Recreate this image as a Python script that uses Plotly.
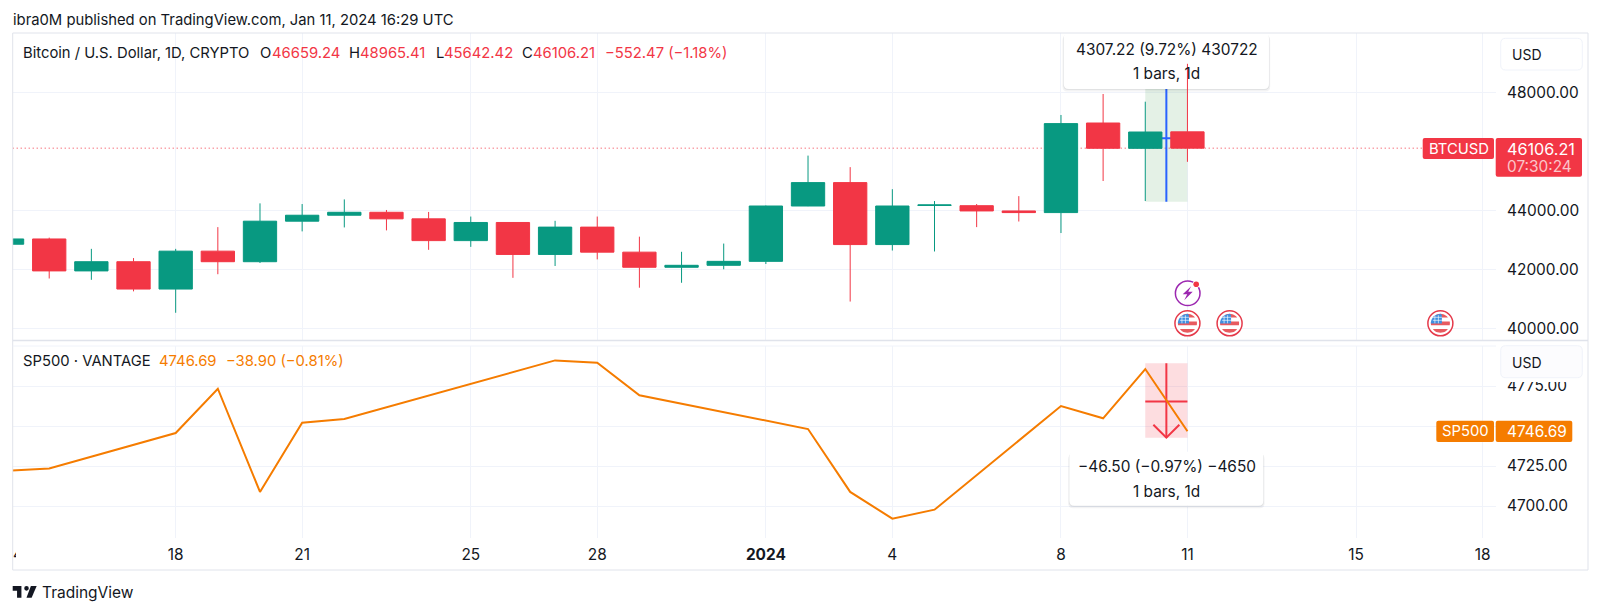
# -*- coding: utf-8 -*-
import numpy as np
import pandas as pd
import plotly.graph_objs as go

# the page body keeps its 8px margin, so the figure is 8px short each way
PAGE_MARGIN = 8
W = 1600 - PAGE_MARGIN
H = 614 - PAGE_MARGIN

# daily BTCUSD candles
btc_dates = pd.date_range('2023-12-14', '2024-01-11').strftime('%Y-%m-%d').tolist()
btc_open = [42850, 43028, 41945, 42257, 41330, 42615, 42257, 43631, 43833, 43933, 43710, 42972, 43587, 42503, 43430,
            42581, 42068, 42135, 42269, 44145, 44938, 42838, 44165, 44156, 43978, 43922, 46959, 46100, 46659.24]
btc_high = [43400, 43073, 42693, 42380, 42693, 43430, 44235, 44212, 44369, 44011, 43944, 43788, 43590, 43643, 43788,
            43106, 42593, 42872, 44160, 45854, 45463, 44715, 44313, 44212, 44480, 47231, 47942, 47681, 48965.41]
btc_low = [41700, 41688, 41643, 41252, 40526, 41833, 42213, 43285, 43419, 43319, 42660, 42760, 41710, 42112, 42336,
           41375, 41543, 42000, 42179, 44140, 40906, 42637, 42604, 43430, 43620, 43229, 44993, 44315, 45642.42]
btc_close = [43028, 41945, 42257, 41330, 42615, 42257, 43631, 43833, 43933, 43710, 42972, 43587, 42503, 43430, 42581,
             42068, 42135, 42269, 44145, 44938, 42838, 44145, 44180, 43978, 43922, 46938, 46102, 46654, 46106.21]

# SP500 closes, trading days only
sp_dates = ['2023-12-14', '2023-12-15', '2023-12-18', '2023-12-19', '2023-12-20', '2023-12-21', '2023-12-22',
            '2023-12-27', '2023-12-28', '2023-12-29', '2024-01-02', '2024-01-03', '2024-01-04', '2024-01-05',
            '2024-01-08', '2024-01-09', '2024-01-10', '2024-01-11']
sp_close = [4722, 4723.5, 4745.6, 4773.3, 4708.8, 4752.1, 4754.4, 4791, 4789.6, 4769.2, 4748.1, 4708.8, 4692.1,
            4697.7, 4762.5, 4754.8, 4785.59, 4746.69]

# axis ticks
x_tick_dates = ['2023-12-18', '2023-12-21', '2023-12-25', '2023-12-28', '2024-01-01', '2024-01-04', '2024-01-08',
                '2024-01-11', '2024-01-15', '2024-01-18']
x_tick_labels = ['18', '21', '25', '28', '<b>2024</b>', '4', '8', '11', '15', '18']
btc_ticks = [40000, 42000, 44000, 48000]
btc_tick_labels = ['40000.00', '42000.00', '44000.00', '48000.00']
sp_ticks = [4700, 4725, 4750, 4775]
sp_tick_labels = ['4700.00', '4725.00', '', '4775.00']  # 4750 sits under the SP500 price label

# measure tools
btc_measure_low = 44290
btc_measure_high = 48597
btc_measure_mid = 46443
sp_measure_high = 4789.2
sp_measure_low = 4742.7
sp_measure_mid = 4765.3
last_btc = 46106.21

# news events
event_dates = ['2024-01-11', '2024-01-12', '2024-01-17']

GREEN = '#089981'
RED = '#F23645'
ORANGE = '#F57C00'
INK = '#131722'
GRID = '#F0F3FA'
FONT = 'Inter'

X_RANGE = ['2023-12-14 03:13', '2024-01-18 07:40']


def px(x):
    return (x - PAGE_MARGIN) / W


def py(y):
    return 1 - (y - PAGE_MARGIN) / H


def rrect(x0, y0, x1, y1, r, fill, line=None):
    p = (f'M {px(x0 + r)} {py(y0)} L {px(x1 - r)} {py(y0)} Q {px(x1)} {py(y0)} {px(x1)} {py(y0 + r)} '
         f'L {px(x1)} {py(y1 - r)} Q {px(x1)} {py(y1)} {px(x1 - r)} {py(y1)} '
         f'L {px(x0 + r)} {py(y1)} Q {px(x0)} {py(y1)} {px(x0)} {py(y1 - r)} '
         f'L {px(x0)} {py(y0 + r)} Q {px(x0)} {py(y0)} {px(x0 + r)} {py(y0)} Z')
    return dict(type='path', xref='paper', yref='paper', path=p, fillcolor=fill, layer='above',
                line=dict(color=line or fill, width=1 if line else 0))


def hline(x0, x1, y, color, width=1):
    return dict(type='line', xref='paper', yref='paper', x0=px(x0), x1=px(x1), y0=py(y), y1=py(y),
                layer='above', line=dict(color=color, width=width))


def vline(x, y0, y1, color, width=1):
    return dict(type='line', xref='paper', yref='paper', x0=px(x), x1=px(x), y0=py(y0), y1=py(y1),
                layer='above', line=dict(color=color, width=width))


def poly(points, fill):
    p = 'M ' + ' L '.join(f'{px(a)} {py(b)}' for a, b in points) + ' Z'
    return dict(type='path', xref='paper', yref='paper', path=p, fillcolor=fill, layer='above', line=dict(width=0))


def circle(cx, cy, r, fill, line=None, width=1.5):
    return dict(type='circle', xref='paper', yref='paper', x0=px(cx - r), x1=px(cx + r), y0=py(cy - r), y1=py(cy + r),
                fillcolor=fill, layer='above', line=dict(color=line or fill, width=width if line else 0))


def band(cx, cy, r, d0, d1, xmax=None):
    ys = np.linspace(d0, d1, 9)
    xs = np.sqrt(np.maximum(r * r - ys * ys, 0))
    right = xs if xmax is None else np.minimum(xs, xmax)
    pts = [(cx + a, cy + b) for a, b in zip(right, ys)]
    pts += [(cx - a, cy + b) for a, b in zip(xs[::-1], ys[::-1])]
    return pts


def flag(cx, cy):
    out = [circle(cx, cy, 12.5, 'white', '#E5394A', 1.5)]
    r = 9.5
    for d0, d1, c in [(-9.5, -5.8, '#E85A5F'), (-1.7, 2.0, '#E85A5F'), (5.8, 9.5, '#E85A5F')]:
        out.append(poly(band(cx, cy, r, d0, d1), c))
    out.append(poly(band(cx, cy, r, -9.5, 0.2, xmax=1.5), '#3F8FE0'))
    for dx in (-5.5, -2):
        out.append(vline(cx + dx, cy - 8, cy, 'rgba(255,255,255,0.8)', 0.8))
    for dy in (-6, -3):
        out.append(hline(cx - 7.5, cx + 1.5, cy + dy, 'rgba(255,255,255,0.8)', 0.8))
    return out


def txt(x, y, text, color=INK, size=14.8, anchor='left', **kw):
    return dict(xref='paper', yref='paper', x=px(x), y=py(y), text=text, showarrow=False, xanchor=anchor,
                yanchor='middle', align=anchor, font=dict(family=FONT, size=size, color=color),
                borderpad=0, borderwidth=0, **kw)


def tooltip(xref, yref, date, value, half_w, half_h):
    # pixel sized box anchored on data, drawn over the grid but under the series
    r = 5
    out = []
    for off, fill in [(2.5, 'rgba(19,23,34,0.05)'), (1, 'rgba(19,23,34,0.08)'), (0, 'white')]:
        a, b = half_w + off / 2, half_h
        t, u = b - off, -b - off
        p = (f'M {-a + r} {t} L {a - r} {t} Q {a} {t} {a} {t - r} L {a} {u + r} Q {a} {u} {a - r} {u} '
             f'L {-a + r} {u} Q {-a} {u} {-a} {u + r} L {-a} {t - r} Q {-a} {t} {-a + r} {t} Z')
        out.append(dict(type='path', xref=xref, yref=yref, xsizemode='pixel', ysizemode='pixel', xanchor=date,
                        yanchor=value, path=p, fillcolor=fill, layer='between', line=dict(width=0)))
    return out


fig = go.Figure()
fig.add_trace(go.Candlestick(x=btc_dates, open=btc_open, high=btc_high, low=btc_low, close=btc_close,
                             increasing=dict(line=dict(color=GREEN, width=1), fillcolor=GREEN),
                             decreasing=dict(line=dict(color=RED, width=1), fillcolor=RED),
                             whiskerwidth=0, showlegend=False, hoverinfo='skip',
                             xaxis='x', yaxis='y'))
fig.add_trace(go.Scatter(x=sp_dates, y=sp_close, mode='lines', line=dict(color=ORANGE, width=2),
                         showlegend=False, hoverinfo='skip', xaxis='x2', yaxis='y2'))

MID = '2024-01-10 12:00'

shapes = []
# last price line
shapes.append(dict(type='line', xref='x', yref='y', x0=X_RANGE[0], x1=X_RANGE[1], y0=last_btc, y1=last_btc,
                   layer='between', line=dict(color=RED, width=1, dash='1px,3px')))
# long measure on BTC
shapes.append(dict(type='rect', xref='x', yref='y', x0='2024-01-10', x1='2024-01-11', y0=btc_measure_low,
                   y1=btc_measure_high, layer='between', fillcolor='rgba(76,160,90,0.15)', line=dict(width=0)))
shapes.append(dict(type='line', xref='x', yref='y', x0='2024-01-10', x1='2024-01-11', y0=btc_measure_mid,
                   y1=btc_measure_mid, layer='between', line=dict(color='#2962FF', width=2)))
shapes.append(dict(type='line', xref='x', yref='y', x0=MID, x1=MID, y0=btc_measure_low, y1=btc_measure_high,
                   layer='between', line=dict(color='#2962FF', width=2)))
shapes += tooltip('x', 'y', MID, 49061, 102.6, 28)
# short measure on SP500
shapes.append(dict(type='rect', xref='x2', yref='y2', x0='2024-01-10', x1='2024-01-11', y0=sp_measure_low,
                   y1=sp_measure_high, layer='between', fillcolor='rgba(242,54,69,0.17)', line=dict(width=0)))
shapes.append(dict(type='line', xref='x2', yref='y2', x0='2024-01-10', x1='2024-01-11', y0=sp_measure_mid,
                   y1=sp_measure_mid, layer='between', line=dict(color=RED, width=2)))
shapes.append(dict(type='line', xref='x2', yref='y2', x0=MID, x1=MID, y0=sp_measure_low, y1=sp_measure_high,
                   layer='between', line=dict(color=RED, width=2)))
shapes.append(dict(type='path', xref='x2', yref='y2', xsizemode='pixel', ysizemode='pixel', xanchor=MID,
                   yanchor=sp_measure_low, path='M -13 13 L 0 0 L 13 13', layer='between',
                   line=dict(color=RED, width=2)))
shapes += tooltip('x2', 'y2', MID, 4717, 97, 27)

# frame
shapes.append(hline(12.7, 1588, 33, '#E0E3EB'))
shapes.append(hline(12.7, 1588, 570, '#E0E3EB'))
shapes.append(vline(12.7, 33, 570, '#E0E3EB'))
shapes.append(vline(1588, 33, 570, '#E0E3EB'))
shapes.append(hline(12.7, 1588, 340.5, '#E0E3EB', 1.5))
shapes.append(hline(12.7, 1496, 346, GRID))

# scale buttons, the lower one also bites into the 4775 label
shapes.append(rrect(1500.7, 38.3, 1582.3, 70, 5, 'white', '#F0F3FA'))
shapes.append(dict(type='rect', xref='paper', yref='paper', x0=px(1500), x1=px(1583), y0=py(382), y1=py(372),
                   layer='above', fillcolor='white', line=dict(width=0)))
shapes.append(rrect(1500.7, 345.7, 1582.3, 377.7, 5, 'rgb(252,252,254)', '#F0F3FA'))

# price labels
shapes.append(rrect(1422.7, 138, 1494, 159, 2, RED))
shapes.append(rrect(1495.7, 138, 1582, 176.7, 2, RED))
shapes.append(rrect(1436.3, 420.7, 1494, 442, 2, ORANGE))
shapes.append(rrect(1495.7, 420.7, 1572.3, 442, 2, ORANGE))

# event icons, x taken from the shared time scale in pixels
for d in event_dates:
    cx = 12.7 + (pd.Timestamp(d) - pd.Timestamp(X_RANGE[0])) / (pd.Timestamp(X_RANGE[1]) - pd.Timestamp(X_RANGE[0])) * (1496 - 12.7)
    shapes += flag(cx, 323.3)
cx = 1187.7
cy = 293.3
shapes.append(circle(cx, cy, 12.3, 'white', '#9C27B0', 1.5))
shapes.append(poly([(cx + 3.5, cy - 7), (cx - 5, cy + 1), (cx - 0.5, cy + 1), (cx - 3.5, cy + 7),
                    (cx + 5, cy - 1.5), (cx + 0.5, cy - 1.5)], '#9C27B0'))
shapes.append(circle(cx + 8.5, cy - 9, 3.6, 'white'))
shapes.append(circle(cx + 8.5, cy - 9, 2.8, RED))

# TradingView logo
lx = lambda a: 12.7 + (a - 2) * 0.727
ly = lambda b: 586 + (b - 6) * 0.78
shapes.append(poly([(lx(a), ly(b)) for a, b in [(14, 6), (2, 6), (2, 12), (8, 12), (8, 21), (14, 21)]], INK))
shapes.append(poly([(lx(a), ly(b)) for a, b in [(28, 21), (21, 21), (27, 6), (35, 6)]], INK))
shapes.append(circle(lx(21), ly(9), 2.3, INK))

annotations = [
    txt(13, 20, 'ibra0M published on TradingView.com, Jan 11, 2024 16:29 UTC'),
    txt(22.8, 53, 'Bitcoin / U.S. Dollar, 1D, CRYPTO'),
    txt(260, 53, 'O'), txt(272, 53, '46659.24', RED),
    txt(348.5, 53, 'H'), txt(360, 53, '48965.41', RED),
    txt(435.5, 53, 'L'), txt(444, 53, '45642.42', RED),
    txt(522, 53, 'C'), txt(532.5, 53, '46106.21', RED),
    txt(605, 53, '−552.47 (−1.18%)', RED),
    txt(23, 360.7, 'SP500 · VANTAGE'),
    txt(159, 360.7, '4746.69', ORANGE),
    txt(226, 360.7, '−38.90 (−0.81%)', ORANGE),
    txt(1512.3, 54.3, 'USD', size=14),
    txt(1512.3, 362, 'USD', size=14),
    txt(1429, 148.5, 'BTCUSD', 'white'),
    txt(1506.7, 148.5, '46106.21', 'white', 16.2),
    txt(1506.7, 166.5, '07:30:24', 'rgba(255,255,255,0.72)', 15.4),
    txt(1442, 431.3, 'SP500', 'white'),
    txt(1506.7, 431.3, '4746.69', 'white', 15.4),
    txt(1166.7, 49.5, '4307.22 (9.72%) 430722', anchor='center', size=15.4),
    txt(1166.7, 74, '1 bars, 1d', anchor='center', size=15.4),
    txt(1166.7, 466, '−46.50 (−0.97%) −4650', anchor='center', size=15.4),
    txt(1166.7, 491.3, '1 bars, 1d', anchor='center', size=15.4),
    txt(42, 592.7, 'TradingView', size=15.5),
    # the tick for the 14th is cut by the left frame, only a sliver of it shows
    txt(12.9, 554, '4', size=15.4, width=3, height=18),
]

axis_common = dict(showgrid=True, gridcolor=GRID, gridwidth=1, zeroline=False, showline=False)

fig.update_layout(
    width=W, height=H, autosize=False,
    margin=dict(l=0, r=0, t=0, b=0),
    paper_bgcolor='white', plot_bgcolor='white',
    font=dict(family=FONT, size=14, color=INK),
    showlegend=False,
    boxgap=0.21,
    boxgroupgap=0,
    shapes=shapes,
    annotations=annotations,
    xaxis=dict(domain=[px(12.7), px(1496)], range=X_RANGE, type='date', anchor='y', tickmode='array',
               tickvals=x_tick_dates, ticktext=x_tick_labels, showticklabels=False, ticks='',
               rangeslider=dict(visible=False), **axis_common),
    xaxis2=dict(domain=[px(12.7), px(1496)], range=X_RANGE, type='date', anchor='y2', matches='x', tickmode='array',
                tickvals=x_tick_dates, ticktext=x_tick_labels, ticks='outside', ticklen=3,
                tickcolor='rgba(0,0,0,0)', tickfont=dict(family=FONT, size=15.4, color=INK), **axis_common),
    yaxis=dict(domain=[py(340), py(33)], range=[39603, 50010], anchor='x', side='right', tickmode='array',
               tickvals=btc_ticks, ticktext=btc_tick_labels, ticks='outside', ticklen=7, tickcolor='rgba(0,0,0,0)',
               tickfont=dict(family=FONT, size=15.4, color=INK), **axis_common),
    yaxis2=dict(domain=[py(538), py(346)], range=[4680, 4800], anchor='x2', side='right', tickmode='array',
                tickvals=sp_ticks, ticktext=sp_tick_labels, ticks='outside', ticklen=7, tickcolor='rgba(0,0,0,0)',
                tickfont=dict(family=FONT, size=15.4, color=INK), **axis_common),
)

fig.write_html("out.html")
